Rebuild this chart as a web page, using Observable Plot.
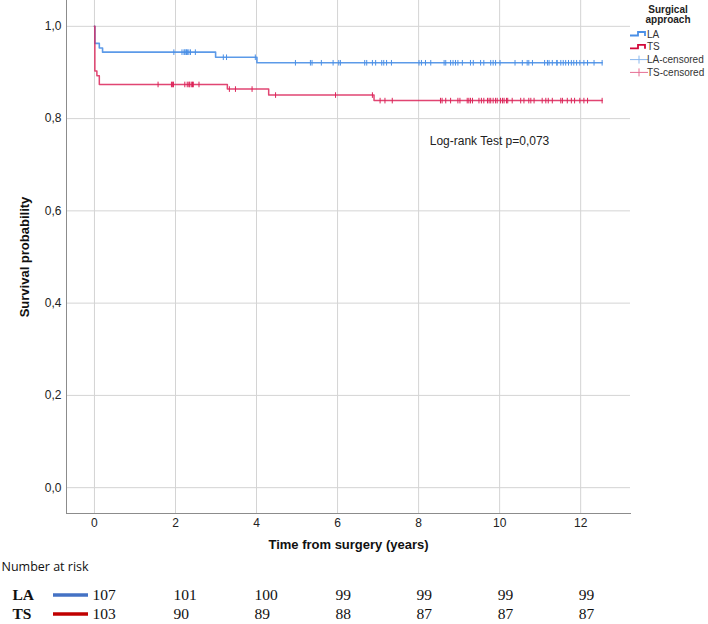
<!DOCTYPE html>
<html>
<head>
<meta charset="utf-8">
<script src="https://cdn.jsdelivr.net/npm/d3@7"></script>
<script src="https://cdn.jsdelivr.net/npm/@observablehq/plot@0.6"></script>
<style>
  body { margin: 0; background: #fff; }
  #graph { width: 708px; }
  #graph svg { display: block; }
</style>
</head>
<body>
<div id="graph"></div>
<script>
// Kaplan-Meier steps (time in years, survival after the step)
const laTime = [0, 0.01, 0.12, 0.2, 2.99, 4.01, 12.53];
const laSurv = [1.0, 0.963, 0.953, 0.944, 0.933, 0.921, 0.921];
const tsTime = [0, 0.01, 0.06, 0.12, 3.28, 4.30, 6.90, 12.53];
const tsSurv = [1.0, 0.903, 0.893, 0.874, 0.864, 0.851, 0.839, 0.839];

// censoring times
const laCensored = [1.96, 2.16, 2.21, 2.23, 2.26, 2.27, 2.30, 2.33, 2.37, 2.49, 3.18, 3.26, 3.97,
  4.96, 5.33, 5.37, 5.60, 5.89, 6.03, 6.07, 6.67, 6.72, 6.86, 6.94, 7.09, 7.14, 7.21, 7.33,
  8.01, 8.07, 8.17, 8.30, 8.63, 8.67, 8.79, 8.85, 8.91, 8.97, 9.08, 9.28, 9.35, 9.53, 9.61,
  9.78, 9.84, 9.90, 10.01, 10.38, 10.56, 10.68, 10.72, 10.81, 11.11, 11.18, 11.22, 11.30,
  11.41, 11.42, 11.51, 11.57, 11.63, 11.70, 11.77, 11.83, 11.90, 11.98, 12.08, 12.17, 12.33, 12.53];
const tsCensored = [1.57, 1.90, 1.93, 1.95, 2.23, 2.29, 2.33, 2.35, 2.39, 2.42, 2.44, 2.58,
  3.33, 3.48, 3.89, 4.47, 5.95, 6.86, 7.05, 7.17, 7.35,
  8.54, 8.58, 8.67, 8.79, 8.97, 9.02, 9.20, 9.24, 9.28, 9.33, 9.49, 9.55, 9.61, 9.70, 9.74,
  9.78, 9.84, 9.90, 9.94, 10.02, 10.07, 10.11, 10.17, 10.20, 10.31, 10.52, 10.60, 10.72,
  10.77, 10.85, 11.05, 11.14, 11.20, 11.30, 11.51, 11.55, 11.67, 11.77, 11.85, 11.98,
  12.08, 12.17, 12.53];

// number at risk table
const groups = ["LA", "TS"];
const riskTimes = [0, 2, 4, 6, 8, 10, 12];
const laRisk = [107, 101, 100, 99, 99, 99, 99];
const tsRisk = [103, 90, 89, 88, 87, 87, 87];

const xTicks = [0, 2, 4, 6, 8, 10, 12];
const yTicks = [0, 0.2, 0.4, 0.6, 0.8, 1.0];
const xDomain = [-0.69, 13.23];
const yDomain = [-0.056, 1.056];

const logRank = {text: "Log-rank Test p=0,073", x: 9.75, y: 0.752};

const laColor = "#4a8fe6";
const tsColor = "#dc2459";
const laCensColor = "#8ab8ee";
const tsCensColor = "#e66e93";
const sans = "Liberation Sans, Arial, sans-serif";
const serif = "Liberation Serif, Times New Roman, serif";

const curve = (times, surv) => times.map((t, i) => ({time: t, surv: surv[i]}));
const survAt = (times, surv, t) => surv[d3.bisectRight(times, t) - 1];
const censorPts = (cens, times, surv) => cens.map(t => ({time: t, surv: survAt(times, surv, t)}));

const laCurve = curve(laTime, laSurv);
const tsCurve = curve(tsTime, tsSurv);
const laCens = censorPts(laCensored, laTime, laSurv);
const tsCens = censorPts(tsCensored, tsTime, tsSurv);

// small vertical tick used as the censoring symbol
const censorTick = {
  draw(ctx, size) {
    const h = Math.sqrt(size / Math.PI);
    ctx.moveTo(0, -h);
    ctx.lineTo(0, h);
  }
};

const comma = d => d.toFixed(1).replace(".", ",");

const chart = Plot.plot({
  width: 708,
  height: 556,
  marginTop: 0,
  marginLeft: 66,
  marginRight: 78,
  marginBottom: 43,
  style: {fontFamily: sans, fontSize: "12px", color: "#222", background: "#fff", overflow: "visible"},
  x: {domain: xDomain},
  y: {domain: yDomain},
  marks: [
    Plot.gridX(xTicks, {stroke: "#d4d4d4", strokeOpacity: 1}),
    Plot.gridY(yTicks, {stroke: "#d4d4d4", strokeOpacity: 1}),
    Plot.axisX({ticks: xTicks, tickSize: 0, tickPadding: 5, label: null, fontSize: 12}),
    Plot.axisY({ticks: yTicks, tickSize: 0, tickPadding: 5, tickFormat: comma, label: null, fontSize: 12}),
    Plot.frame({anchor: "left", stroke: "#8c8c8c"}),
    Plot.frame({anchor: "bottom", stroke: "#8c8c8c"}),
    Plot.line(laCurve, {x: "time", y: "surv", curve: "step-after", stroke: laColor, strokeWidth: 1.6, strokeOpacity: 0.9}),
    Plot.line(tsCurve, {x: "time", y: "surv", curve: "step-after", stroke: tsColor, strokeWidth: 1.5, strokeOpacity: 0.85}),
    Plot.dot(laCens, {x: "time", y: "surv", symbol: censorTick, r: 2.8, fill: "none", stroke: laColor, strokeWidth: 1}),
    Plot.dot(tsCens, {x: "time", y: "surv", symbol: censorTick, r: 2.8, fill: "none", stroke: tsColor, strokeWidth: 1}),
    Plot.text([logRank], {x: "x", y: "y", text: "text", fontSize: 12, fill: "#222"}),
    Plot.text(["Time from surgery (years)"], {text: d => d, frameAnchor: "bottom", dy: 35, textAnchor: "middle",
      fontWeight: "bold", fontSize: 13, fill: "#111"}),
    Plot.text(["Survival probability"], {text: d => d, frameAnchor: "left", dx: -42, dy: 0, rotate: -90,
      textAnchor: "middle", fontWeight: "bold", fontSize: 13, fill: "#111"})
  ]
});

// legend on the right
const legendLabels = ["LA", "TS", "LA-censored", "TS-censored"];
const legendColors = [laColor, "#d3083a", laCensColor, tsCensColor];
const lg = d3.select(chart).append("g")
  .attr("font-family", sans).attr("font-size", 10).attr("fill", "#333").attr("text-anchor", "start");
lg.append("text").attr("x", 668).attr("y", 13).attr("text-anchor", "middle")
  .attr("font-weight", "bold").attr("fill", "#222").text("Surgical");
lg.append("text").attr("x", 668).attr("y", 23).attr("text-anchor", "middle")
  .attr("font-weight", "bold").attr("fill", "#222").text("approach");
legendLabels.forEach((label, i) => {
  const cy = 34 + i * 12.8;
  if (i < 2) {
    lg.append("path")
      .attr("d", `M630,${cy + 1.5}H638V${cy - 2}H645V${cy + 2}`)
      .attr("fill", "none").attr("stroke", legendColors[i]).attr("stroke-width", 1.8);
  } else {
    lg.append("path")
      .attr("d", `M630,${cy}H648M639,${cy - 4}V${cy + 4}`)
      .attr("fill", "none").attr("stroke", legendColors[i]).attr("stroke-width", 1);
  }
  lg.append("text").attr("x", 647).attr("y", cy + 3.5).attr("text-anchor", "start").text(label);
});

const riskRows = groups.flatMap(g => riskTimes.map((t, i) => ({
  group: g, time: t, n: (g === "LA" ? laRisk : tsRisk)[i]
})));

const risk = Plot.plot({
  width: 708,
  height: 68,
  marginTop: 0,
  marginLeft: 66,
  marginRight: 78,
  marginBottom: 0,
  style: {fontFamily: serif, color: "#000", background: "#fff", overflow: "visible"},
  x: {domain: xDomain, axis: null},
  y: {type: "point", domain: groups, range: [39, 58], padding: 0, axis: null},
  marks: [
    Plot.text(["Number at risk"], {text: d => d, frameAnchor: "top-left", dx: -65, dy: 6,
      textAnchor: "start", fontFamily: "Open Sans, sans-serif", fontSize: 12.5, fill: "#111"}),
    Plot.text(riskRows, {x: "time", y: "group", text: "n", textAnchor: "start", dx: -2, fontSize: 15.5, fill: "#111"}),
    Plot.text(groups, {y: d => d, text: d => d, frameAnchor: "left", dx: -54, textAnchor: "start",
      fontWeight: "bold", fontSize: 15.5, fill: "#111"})
  ]
});

// coloured swatches next to the group names
const ry = risk.scale("y");
const swatchColors = {LA: "#4472c4", TS: "#c00000"};
d3.select(risk).append("g").selectAll("line").data(groups).join("line")
  .attr("x1", 53).attr("x2", 88)
  .attr("y1", d => ry.apply(d)).attr("y2", d => ry.apply(d))
  .attr("stroke", d => swatchColors[d]).attr("stroke-width", 3.5);

d3.select("#graph").append(() => chart);
d3.select("#graph").append(() => risk);
</script>
</body>
</html>
